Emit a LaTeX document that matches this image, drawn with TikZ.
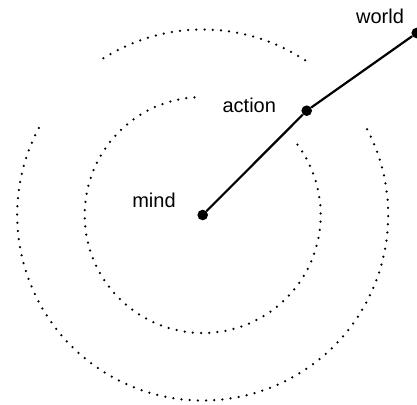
\documentclass[tikz,border=0pt]{standalone}
\usepackage{fontspec}
\setmainfont{Liberation Sans}
\begin{document}
\begin{tikzpicture}[x=1pt, y=1pt,
  dot/.style={circle, fill=black, inner sep=0pt, minimum size=10.6pt},
  ring/.style={line width=2.5pt, line cap=round, dash pattern=on 0pt off 8.2pt},
  link/.style={line width=2.2pt},
  tag/.style={anchor=base, inner sep=0pt, font=\fontsize{20}{24}\selectfont}]
  \useasboundingbox (-202.7,-189) rectangle (214.3,215);
  % Points
  \node[dot] (mind) at (0,0) {};
  \node[dot] (action) at (104,104.3) {};
  \node[dot] (world) at (214,182) {};
  % Inner ring (open near the top right)
  \draw[ring] (94:118pt) arc (94:400:118pt);
  % Outer ring, two open sectors
  \draw[ring] (56.5:185.5pt) arc (56.5:124:185.5pt);
  \draw[ring] (152:185.5pt) arc (152:388:185.5pt);
  % Path out of the mind
  \draw[link] (mind) -- (action) -- (world);
  % Labels
  \node[tag] (mindtag) at (-48.7,7.7) {mind};
  \node[tag] (actiontag) at (46.6,102.3) {action};
  \node[tag] (worldtag) at (177.3,191) {world};
\end{tikzpicture}
\end{document}
